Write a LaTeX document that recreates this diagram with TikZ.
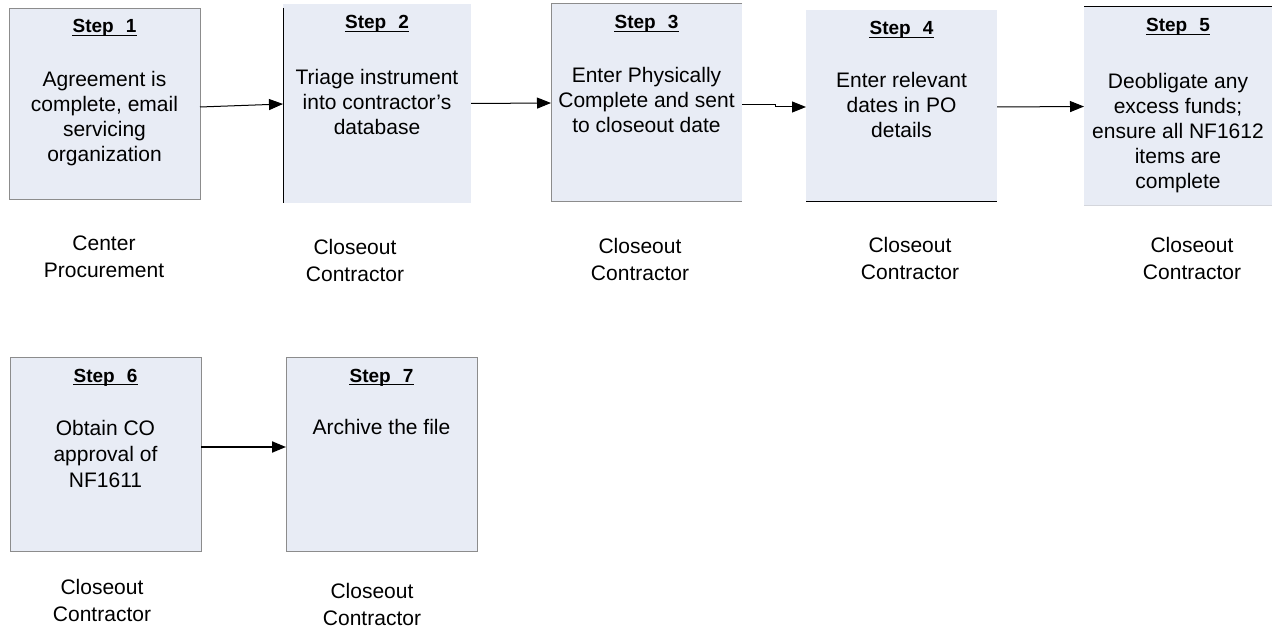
\documentclass[tikz,border=0pt]{standalone}
\usepackage{fontspec}
\setmainfont{Liberation Sans}
\usetikzlibrary{arrows.meta,calc}
\definecolor{boxfill}{HTML}{E8ECF5}
\definecolor{edgegray}{HTML}{8C8C8C}
\definecolor{faintgray}{HTML}{D4D6DC}

\begin{document}
\begin{tikzpicture}[x=1pt,y=-1pt,
  stepbox/.style={rectangle, fill=boxfill, inner sep=0pt, outer sep=0pt, anchor=north west},
  steptitle/.style={anchor=base, inner sep=0pt, font=\fontsize{19}{23}\selectfont\bfseries},
  stepbody/.style={anchor=base, inner sep=0pt, align=center, font=\fontsize{21}{25}\selectfont},
  role/.style={anchor=base, inner sep=0pt, align=center, font=\fontsize{21}{27}\selectfont},
  ul/.style={line width=1.3pt},
  frame/.style={draw=edgegray, line width=1pt},
  flow/.style={-{Triangle[length=14pt,width=11pt]}, line width=1pt},
]
\useasboundingbox (0,0) rectangle (1275,628);

% ---- boxes ----
\node[stepbox, minimum width=191pt, minimum height=191pt] (s1) at (9,9) {};
\node[stepbox, minimum width=188pt, minimum height=199pt] (s2) at (283,4) {};
\node[stepbox, minimum width=191pt, minimum height=198pt] (s3) at (551,4) {};
\node[stepbox, minimum width=191pt, minimum height=192pt] (s4) at (806,10) {};
\node[stepbox, minimum width=188pt, minimum height=199pt] (s5) at (1084,7) {};
\node[stepbox, minimum width=191pt, minimum height=193pt] (s6) at (10,358) {};
\node[stepbox, minimum width=191pt, minimum height=193pt] (s7) at (286,358) {};

% ---- box edges ----
\draw[frame] (s1.north west) rectangle (s1.south east);
\draw[black, line width=1pt] ([yshift=-4pt]s2.north west) -- (s2.south west);
\draw[frame] (s3.north east) -- (s3.north west) -- (s3.south west) -- (s3.south east);
\draw[black, line width=1pt] (s4.south west) -- (s4.south east);
\draw[black, line width=1pt] (s5.north west) -- (s5.north east);
\draw[faintgray, line width=1pt] (s5.south west) -- (s5.south east);
\draw[frame] (s6.north west) rectangle (s6.south east);
\draw[frame] (s7.north west) rectangle (s7.south east);

% ---- titles ----
\node[steptitle] (t1) at (104.5,33) {Step\hspace{12pt}1};
\node[steptitle] (t2) at (377,29) {Step\hspace{12pt}2};
\node[steptitle] (t3) at (646.5,29) {Step\hspace{12pt}3};
\node[steptitle] (t4) at (901.5,35) {Step\hspace{12pt}4};
\node[steptitle] (t5) at (1178,32) {Step\hspace{12pt}5};
\node[steptitle] (t6) at (105.5,382) {Step\hspace{12pt}6};
\node[steptitle] (t7) at (381.5,382) {Step\hspace{12pt}7};
\foreach \t in {t1,t2,t3,t4,t5,t6,t7}
  \draw[ul] ([yshift=-2.5pt]\t.base west) -- ([yshift=-2.5pt]\t.base east);

% ---- step texts (placed by the baseline of their last line) ----
\node[stepbody] (b1) at (104.5,162) {Agreement is\\complete, email\\servicing\\organization};
\node[stepbody] (b2) at (377,135) {Triage instrument\\into contractor’s\\database};
\node[stepbody] (b3) at (646.5,133) {Enter Physically\\Complete and sent\\to closeout date};
\node[stepbody] (b4) at (901.5,138) {Enter relevant\\dates in PO\\details};
\node[stepbody] (b5) at (1178,189) {Deobligate any\\excess funds;\\ensure all NF1612\\items are\\complete};
\node[stepbody, font=\fontsize{21}{26}\selectfont] (b6) at (105.5,487) {Obtain CO\\approval of\\NF1611};
\node[stepbody] (b7) at (381.5,435) {Archive the file};

% ---- responsible parties ----
\node[role] (r1) at (104,278) {Center\\Procurement};
\node[role] (r2) at (355,282) {Closeout\\Contractor};
\node[role] (r3) at (640,281) {Closeout\\Contractor};
\node[role] (r4) at (910,280) {Closeout\\Contractor};
\node[role] (r5) at (1192,280) {Closeout\\Contractor};
\node[role] (r6) at (102,621) {Closeout\\Contractor};
\node[role] (r7) at (372,625) {Closeout\\Contractor};

% ---- flow ----
\draw[flow] ([yshift=-2.5pt]s1.east) -- ([yshift=-0.5pt]s2.west);
\draw[flow] ([yshift=0pt]s2.east) -- ([yshift=0pt]s3.west);
\draw[flow] ([yshift=-2pt]s3.east) -- ++(33,0) |- ([yshift=-1pt]s4.west);
\draw[flow] ([yshift=-1pt]s4.east) -- ([yshift=0pt]s5.west);
\draw[flow, line width=2pt] ([yshift=7.5pt]s6.east) -- ([yshift=7.5pt]s7.west);
\end{tikzpicture}
\end{document}
